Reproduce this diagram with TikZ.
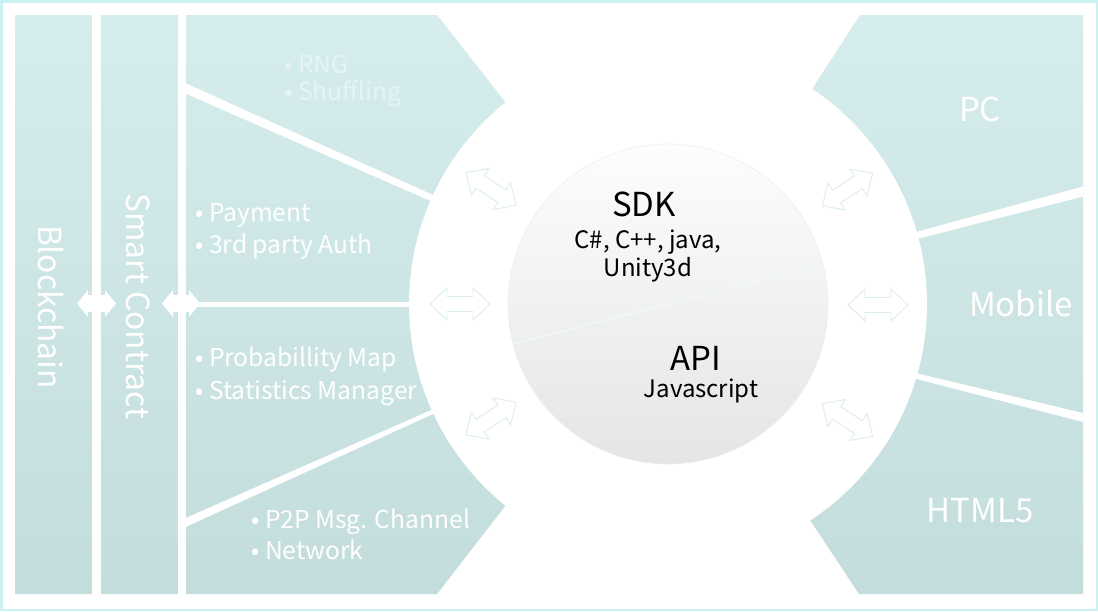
\documentclass[tikz,border=0pt]{standalone}
\usepackage{fontspec}
\setmainfont{Noto Sans CJK KR}
\definecolor{paneltop}{RGB}{214,237,237}
\definecolor{panelbot}{RGB}{195,220,220}
\definecolor{framecol}{RGB}{202,240,240}
\definecolor{arrowline}{RGB}{220,237,237}
\definecolor{circtop}{RGB}{253,253,253}
\definecolor{circbot}{RGB}{229,229,229}
\definecolor{chordcol}{RGB}{238,250,250}
\begin{document}
\begin{tikzpicture}[x=1pt,y=-1pt,
  panel/.style={top color=paneltop, bottom color=panelbot},
  gapfill/.style={fill=white},
  itemtext/.style={text=white, inner sep=0pt, anchor=base west, font=\fontsize{24.6}{25}\selectfont},
  fainttext/.style={itemtext, text=white!40!paneltop},
  biglabel/.style={text=white, inner sep=0pt, anchor=base, font=\fontsize{33}{33}\selectfont},
  sidelabel/.style={text=white, inner sep=0pt, anchor=base, rotate=-90, font=\fontsize{31.8}{32}\selectfont},
  headtext/.style={text=black, inner sep=0pt, anchor=base, font=\fontsize{33}{33}\selectfont},
  subtext/.style={text=black, inner sep=0pt, anchor=base, font=\fontsize{24}{24}\selectfont},
  softarrow/.style={fill=white, draw=arrowline, line width=0.9pt, line join=miter},
  solidarrow/.style={fill=white}
]
\useasboundingbox (0,0) rectangle (1098,611);
\fill[white] (0,0) rectangle (1098,611);
\draw[framecol, line width=2.5pt] (1.25,1.25) rectangle (1096.75,609.75);

% panels
\shade[panel] (15,15) -- (437,15) -- (506,103) -- (640,304) -- (506,505) -- (437,594) -- (15,594) -- cycle;
\shade[panel] (860,15) -- (1083,15) -- (1083,594) -- (859,594) -- (810,520) -- (700,304) -- (812,89) -- cycle;

% white separators, left
\fill[gapfill] (92,14) rectangle (100.5,595);
\fill[gapfill] (178,14) rectangle (185.5,595);
\fill[gapfill] (185,83) -- (445,200.4) -- (445,207.3) -- (185,93.3) -- cycle;
\fill[gapfill] (185,518.3) -- (445,404) -- (445,408.5) -- (185,527.3) -- cycle;
\fill[gapfill] (185,302) rectangle (430,307);
% white separators, right
\fill[gapfill] (905,235) -- (1083,186.5) -- (1083,196.5) -- (905,242) -- cycle;
\fill[gapfill] (905,370.5) -- (1083,413) -- (1083,422) -- (905,376) -- cycle;

% white double arrows on the left panel
\fill[solidarrow] (77,303.5) -- (88,290) -- (88,295) -- (105,295) -- (105,290) -- (116,303.5) -- (105,317) -- (105,312) -- (88,312) -- (88,317) -- cycle;
\fill[solidarrow] (162,303.5) -- (173,290) -- (173,295) -- (189,295) -- (189,290) -- (200,303.5) -- (189,317) -- (189,312) -- (173,312) -- (173,317) -- cycle;

% big white disc
\fill[white] (668,304) circle[radius=259pt];

% inner disc
\shade[top color=circtop, bottom color=circbot, draw=arrowline!70!white, line width=0.6pt] (668,304) circle[radius=160pt];
\begin{scope}
  \clip (668,304) circle[radius=159.5pt];
  \draw[chordcol, line width=1.3pt] (480,352.5) -- (860,255);
\end{scope}

% soft double arrows around the disc
\foreach \cx/\cy/\ang in {460/304/0, 878/305/0, 491/189/-33, 491/418.5/33, 847.5/189.5/33, 847.5/420/-33}{
  \begin{scope}[shift={(\cx,\cy)}, rotate=\ang]
    \path[softarrow] (-30,0) -- (-13,-16) -- (-13,-7.5) -- (13,-7.5) -- (13,-16) -- (30,0) -- (13,16) -- (13,7.5) -- (-13,7.5) -- (-13,16) -- cycle;
  \end{scope}
}

% left texts
\node[sidelabel] (bc) at (38.6,307) {Blockchain};
\node[sidelabel] (sc) at (126,306.5) {Smart Contract};
\node[fainttext] (rng) at (284,73) {• RNG};
\node[fainttext] (shuf) at (284,100.5) {• Shuffling};
\node[itemtext] (pay) at (195,221.7) {• Payment};
\node[itemtext] (auth) at (195,253) {• 3rd party Auth};
\node[itemtext] (prob) at (195,366.7) {• Probabillity Map};
\node[itemtext] (stat) at (195,399) {• Statistics Manager};
\node[itemtext] (p2p) at (251,528) {• P2P Msg. Channel};
\node[itemtext] (net) at (251,559) {• Network};

% centre texts
\node[headtext] (sdk) at (644,216.7) {SDK};
\node[subtext] (langs) at (648,248) {C\#, C++, java,};
\node[subtext] (unity) at (648,276.7) {Unity3d};
\node[headtext] (api) at (696,370.7) {API};
\node[subtext] (js) at (701,397.7) {Javascript};

% right texts
\node[biglabel] (pc) at (980,121.7) {PC};
\node[biglabel] (mob) at (1021,316.7) {Mobile};
\node[biglabel] (html) at (980,522.7) {HTML5};
\end{tikzpicture}
\end{document}
